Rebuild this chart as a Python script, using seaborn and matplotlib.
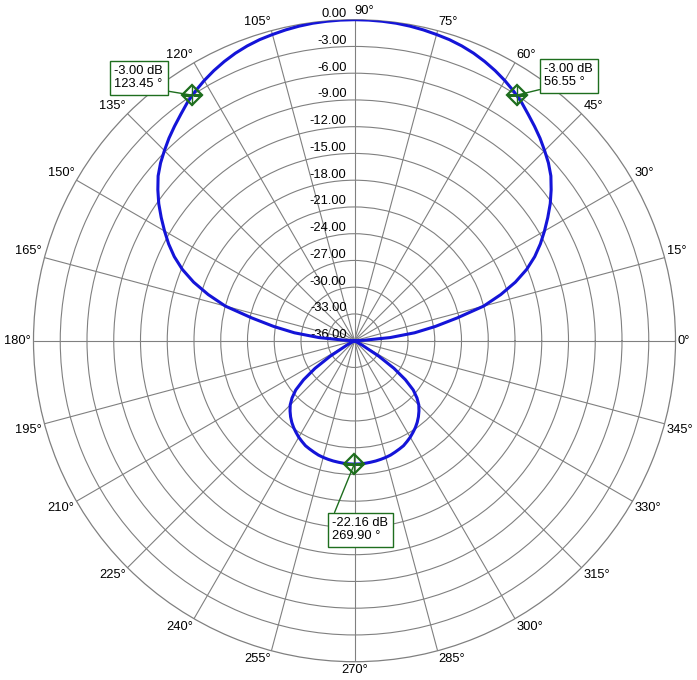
import numpy as np
import pandas as pd
import matplotlib
matplotlib.use("Agg")
import matplotlib.pyplot as plt
import seaborn as sns
from matplotlib.transforms import offset_copy

# radiation pattern, every 2.5 degrees, dB (plot floor is -36)
angle_deg = [i * 2.5 for i in range(145)]
gain_db = [
    # 0 - 90
    -36.0, -35.0, -32.0, -29.2, -26.8, -24.2, -21.0, -18.8, -16.8, -15.1,
    -13.7, -12.5, -11.4, -10.3, -9.2, -8.2, -7.25, -6.5, -5.85, -5.2,
    -4.6, -4.0, -3.35, -2.8, -2.3, -1.85, -1.45, -1.1, -0.82, -0.6,
    -0.45, -0.3, -0.18, -0.09, -0.04, -0.01, 0.0,
    # 92.5 - 180
    -0.01, -0.04, -0.09, -0.18, -0.3, -0.45, -0.6, -0.82, -1.1, -1.45,
    -1.85, -2.3, -2.8, -3.35, -4.0, -4.6, -5.2, -5.85, -6.5, -7.25,
    -8.2, -9.2, -10.3, -11.4, -12.5, -13.7, -15.1, -16.8, -18.8, -21.0,
    -24.2, -26.8, -29.2, -32.0, -35.0, -36.0,
    # 182.5 - 270
    -36.0, -36.0, -36.0, -36.0, -36.0, -36.0, -36.0, -36.0, -36.0, -36.0,
    -36.0, -35.0, -32.8, -30.6, -28.8, -27.4, -26.5, -25.8, -25.3, -24.85,
    -24.45, -24.1, -23.8, -23.5, -23.25, -23.0, -22.85, -22.7, -22.55, -22.45,
    -22.37, -22.3, -22.25, -22.2, -22.17, -22.16,
    # 272.5 - 360
    -22.17, -22.2, -22.25, -22.3, -22.37, -22.45, -22.55, -22.7, -22.85, -23.0,
    -23.25, -23.5, -23.8, -24.1, -24.45, -24.85, -25.3, -25.8, -26.5, -27.4,
    -28.8, -30.6, -32.8, -35.0, -36.0, -36.0, -36.0, -36.0, -36.0, -36.0,
    -36.0, -36.0, -36.0, -36.0, -36.0, -36.0,
]

# marker readouts
marker_deg = [123.45, 56.55, 269.90]
marker_db = [-3.00, -3.00, -22.16]

ring_db = list(range(0, -39, -3))
spoke_deg = list(range(0, 360, 15))

df = pd.DataFrame({"theta": np.deg2rad(angle_deg), "gain": gain_db})

sns.set_style("white")
plt.rcParams["font.family"] = ["Liberation Sans", "DejaVu Sans"]
plt.rcParams["text.color"] = "black"

grid_col = "#808080"
green = "#1e6e1e"
fs = 9.3

fig = plt.figure(figsize=(6.97, 6.80), dpi=100)
ax = fig.add_axes([33.5 / 697, 18.3 / 680, 642 / 697, 642 / 680], projection="polar")
ax.set_facecolor("white")
ax.set_rlim(-36, 0)
ax.set_rgrids(ring_db[1:-1], labels=[""] * len(ring_db[1:-1]))
ax.set_thetagrids(spoke_deg, labels=[""] * len(spoke_deg))
ax.grid(True, color=grid_col, lw=0.8, ls="-")
ax.spines["polar"].set_color(grid_col)
ax.spines["polar"].set_linewidth(0.9)

# radial labels along the 90 degree spoke
tr_r = offset_copy(ax.transData, fig=fig, x=-8, y=2.5, units="dots")
for v in ring_db:
    ax.text(np.pi / 2, v, f"{v:.2f}" if v != 0 else "0.00", ha="right", va="baseline",
            fontsize=fs, color="black", transform=tr_r, clip_on=False, zorder=1)

# angle labels around the rim
for d in spoke_deg:
    t = np.deg2rad(d)
    c, s = np.cos(t), np.sin(t)
    ha = "left" if c > 0.01 else ("right" if c < -0.01 else "center")
    va = "bottom" if s > 0.01 else ("top" if s < -0.01 else "center")
    if d == 90:
        ha = "left"
    tr = offset_copy(ax.transData, fig=fig, x=2.5 * c, y=2.5 * s, units="dots")
    ax.text(t, 0, f"{d}°", ha=ha, va=va, fontsize=fs, color="black",
            transform=tr, clip_on=False)

sns.lineplot(data=df, x="theta", y="gain", ax=ax, sort=False, estimator=None,
             color="#1414d8", lw=2.2, zorder=3)
ax.set_xlabel("")
ax.set_ylabel("")

mt = np.deg2rad(marker_deg)
ax.plot(mt, marker_db, ls="none", marker="D", ms=10, mfc="none", mec=green, mew=1.6, zorder=4)
ax.plot(mt, marker_db, ls="none", marker="+", ms=15, mec=green, mew=1.0, zorder=4)

box_xy = [(114.5, 614.5), (544.5, 616.5), (332.5, 162.5)]
box_rel = [(1, 0), (0, 0), (0, 1)]
for t, v, xyt, rel in zip(marker_deg, marker_db, box_xy, box_rel):
    ax.annotate(f"{v:.2f} dB\n{t:.2f} °", xy=(np.deg2rad(t), v), xytext=xyt,
                textcoords="figure pixels", ha="left", va="top", fontsize=fs,
                color="black", linespacing=1.1, annotation_clip=False, zorder=5,
                bbox=dict(boxstyle="square,pad=0.35", fc="white", ec=green, lw=1),
                arrowprops=dict(arrowstyle="-", color=green, lw=1, shrinkA=0,
                                shrinkB=0, relpos=rel))

fig.savefig("out.png", dpi=100)
